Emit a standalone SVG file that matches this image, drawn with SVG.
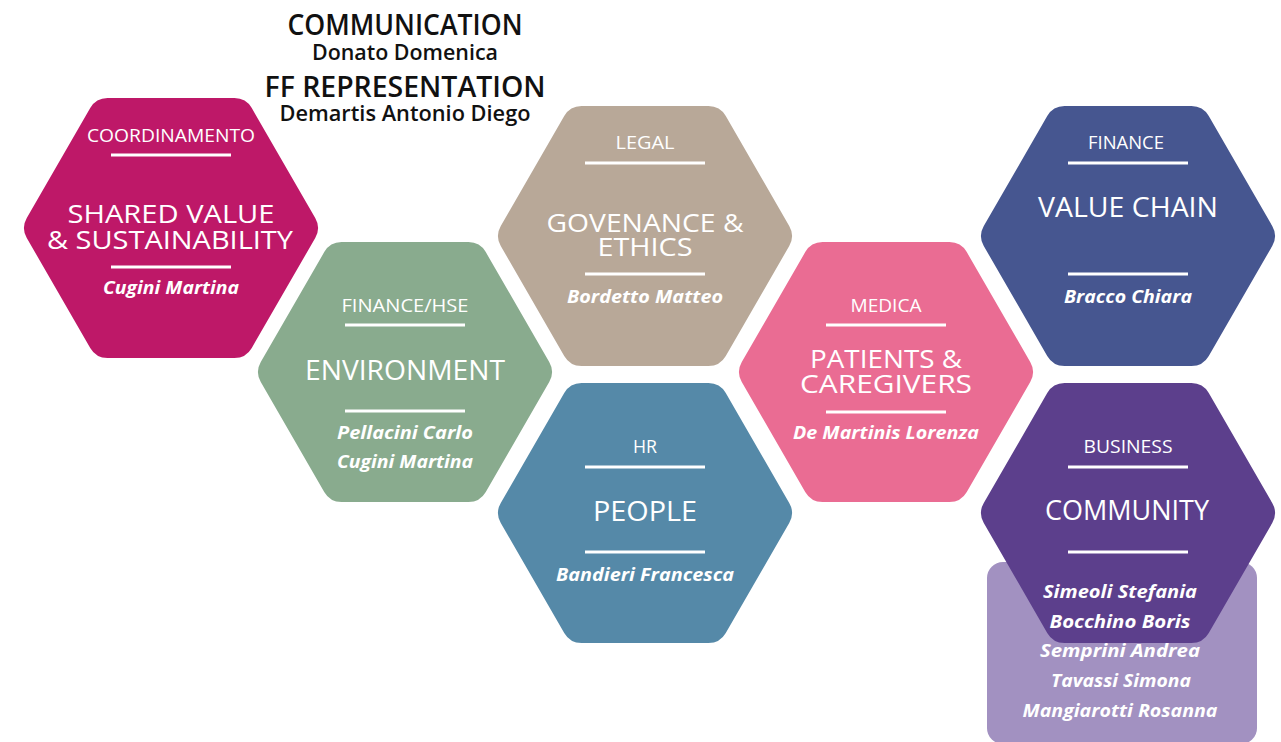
<svg xmlns="http://www.w3.org/2000/svg" xmlns:xlink="http://www.w3.org/1999/xlink" width="1281" height="742" viewBox="0 0 1281 742">
<defs>
<path id="hex" d="M63.45,-129.9 A20,20 0 0 1 80.77,-119.9 L144.23,-10 A20,20 0 0 1 144.23,10 L80.77,119.9 A20,20 0 0 1 63.45,129.9 L-63.45,129.9 A20,20 0 0 1 -80.77,119.9 L-144.23,10 A20,20 0 0 1 -144.23,-10 L-80.77,-119.9 A20,20 0 0 1 -63.45,-129.9 Z"/>
<style>
text{font-family:"Open Sans","Noto Sans","Liberation Sans",sans-serif;text-anchor:middle;fill:#fff}
.lab{font-size:18px;font-weight:500}
.ttl{font-size:28px;font-weight:500}
.ttl2{font-size:26px;font-weight:500}
.nm{font-size:18px;font-weight:700;font-style:italic}
.rule{stroke:#fff;stroke-width:3}
.top1{font-size:28px;font-weight:600;fill:#111}
.top2{font-size:21px;font-weight:600;fill:#111}
</style>
</defs>
<rect width="1281" height="742" fill="#fff"/>

<g id="header">
<text class="top1" x="405" y="35" textLength="235" lengthAdjust="spacingAndGlyphs">COMMUNICATION</text>
<text class="top2" x="405" y="60" textLength="186" lengthAdjust="spacingAndGlyphs">Donato Domenica</text>
<text class="top1" x="405" y="97" textLength="281" lengthAdjust="spacingAndGlyphs">FF REPRESENTATION</text>
<text class="top2" x="405" y="121" textLength="251" lengthAdjust="spacingAndGlyphs">Demartis Antonio Diego</text>
</g>

<g id="shared-value">
<use xlink:href="#hex" href="#hex" x="171" y="228" fill="#BE1868"/>
<text class="lab" x="171" y="142" textLength="168" lengthAdjust="spacingAndGlyphs">COORDINAMENTO</text>
<line class="rule" x1="111" y1="155" x2="231" y2="155"/>
<text class="ttl2" x="171" y="223" textLength="207" lengthAdjust="spacingAndGlyphs">SHARED VALUE</text>
<text class="ttl2" x="170" y="249" textLength="246" lengthAdjust="spacingAndGlyphs">&amp; SUSTAINABILITY</text>
<line class="rule" x1="111" y1="267" x2="231" y2="267"/>
<text class="nm" x="171" y="294" textLength="136" lengthAdjust="spacingAndGlyphs">Cugini Martina</text>
</g>

<g id="environment">
<use xlink:href="#hex" href="#hex" x="405" y="372" fill="#89AB8E"/>
<text class="lab" x="405" y="312" textLength="127" lengthAdjust="spacingAndGlyphs">FINANCE/HSE</text>
<line class="rule" x1="345" y1="325" x2="465" y2="325"/>
<text class="ttl" x="405" y="380" textLength="200" lengthAdjust="spacingAndGlyphs">ENVIRONMENT</text>
<line class="rule" x1="345" y1="411" x2="465" y2="411"/>
<text class="nm" x="405" y="439" textLength="136" lengthAdjust="spacingAndGlyphs">Pellacini Carlo</text>
<text class="nm" x="405" y="468" textLength="136" lengthAdjust="spacingAndGlyphs">Cugini Martina</text>
</g>

<g id="governance">
<use xlink:href="#hex" href="#hex" x="645" y="236" fill="#B8A898"/>
<text class="lab" x="645" y="149" textLength="59" lengthAdjust="spacingAndGlyphs">LEGAL</text>
<line class="rule" x1="585" y1="163" x2="705" y2="163"/>
<text class="ttl2" x="645" y="232" textLength="197" lengthAdjust="spacingAndGlyphs">GOVENANCE &amp;</text>
<text class="ttl2" x="645" y="256" textLength="95" lengthAdjust="spacingAndGlyphs">ETHICS</text>
<line class="rule" x1="585" y1="274" x2="705" y2="274"/>
<text class="nm" x="645" y="303" textLength="156" lengthAdjust="spacingAndGlyphs">Bordetto Matteo</text>
</g>

<g id="people">
<use xlink:href="#hex" href="#hex" x="645" y="513" fill="#5589A8"/>
<text class="lab" x="645" y="453" textLength="24" lengthAdjust="spacingAndGlyphs">HR</text>
<line class="rule" x1="585" y1="467" x2="705" y2="467"/>
<text class="ttl" x="645" y="521" textLength="104" lengthAdjust="spacingAndGlyphs">PEOPLE</text>
<line class="rule" x1="585" y1="552" x2="705" y2="552"/>
<text class="nm" x="645" y="581" textLength="178" lengthAdjust="spacingAndGlyphs">Bandieri Francesca</text>
</g>

<g id="patients">
<use xlink:href="#hex" href="#hex" x="886" y="372" fill="#EA6C93"/>
<text class="lab" x="886" y="312" textLength="71" lengthAdjust="spacingAndGlyphs">MEDICA</text>
<line class="rule" x1="826" y1="325" x2="946" y2="325"/>
<text class="ttl2" x="886" y="368" textLength="152" lengthAdjust="spacingAndGlyphs">PATIENTS &amp;</text>
<text class="ttl2" x="886" y="393" textLength="172" lengthAdjust="spacingAndGlyphs">CAREGIVERS</text>
<line class="rule" x1="826" y1="412" x2="946" y2="412"/>
<text class="nm" x="886" y="439" textLength="186" lengthAdjust="spacingAndGlyphs">De Martinis Lorenza</text>
</g>

<g id="value-chain">
<use xlink:href="#hex" href="#hex" x="1128" y="236" fill="#465690"/>
<text class="lab" x="1126" y="149" textLength="76" lengthAdjust="spacingAndGlyphs">FINANCE</text>
<line class="rule" x1="1068" y1="163" x2="1188" y2="163"/>
<text class="ttl" x="1128" y="217" textLength="180" lengthAdjust="spacingAndGlyphs">VALUE CHAIN</text>
<line class="rule" x1="1068" y1="274" x2="1188" y2="274"/>
<text class="nm" x="1128" y="303" textLength="128" lengthAdjust="spacingAndGlyphs">Bracco Chiara</text>
</g>

<g id="community">
<rect x="987" y="562" width="270" height="182" rx="16" fill="#A291C1"/>
<use xlink:href="#hex" href="#hex" x="1128" y="513" fill="#5C3F8C"/>
<text class="lab" x="1128" y="453" textLength="89" lengthAdjust="spacingAndGlyphs">BUSINESS</text>
<line class="rule" x1="1068" y1="467" x2="1188" y2="467"/>
<text class="ttl" x="1127" y="520" textLength="164" lengthAdjust="spacingAndGlyphs">COMMUNITY</text>
<line class="rule" x1="1068" y1="552" x2="1188" y2="552"/>
<text class="nm" x="1120" y="598" textLength="154" lengthAdjust="spacingAndGlyphs">Simeoli Stefania</text>
<text class="nm" x="1120" y="628" textLength="141" lengthAdjust="spacingAndGlyphs">Bocchino Boris</text>
<text class="nm" x="1120" y="657" textLength="160" lengthAdjust="spacingAndGlyphs">Semprini Andrea</text>
<text class="nm" x="1121" y="687" textLength="140" lengthAdjust="spacingAndGlyphs">Tavassi Simona</text>
<text class="nm" x="1120" y="717" textLength="195" lengthAdjust="spacingAndGlyphs">Mangiarotti Rosanna</text>
</g>
</svg>
